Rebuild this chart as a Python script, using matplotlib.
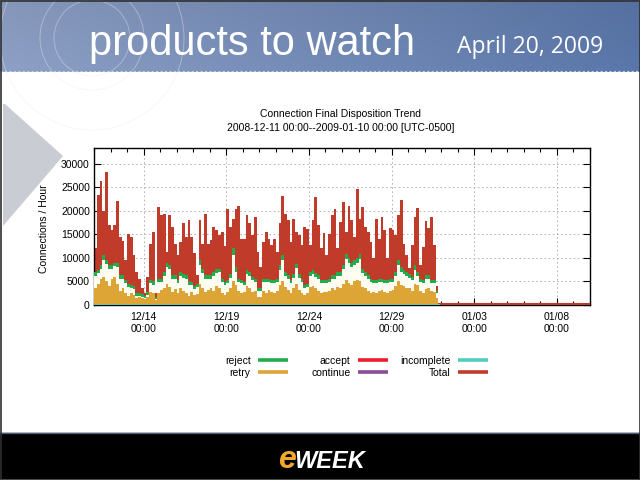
import numpy as np
import matplotlib
matplotlib.use('Agg')
import matplotlib.pyplot as plt
from matplotlib.patches import Polygon, Rectangle, Circle
from matplotlib.lines import Line2D

plt.rcParams['font.family'] = ['Liberation Sans', 'DejaVu Sans']

# ---------------- data (thousands of connections per 4-hour bin) ----------------
bin_hours = 4
total_k = [12.0, 23.3, 26.4, 20.0, 28.2, 17.0, 16.0, 17.0, 22.0, 14.5,
           13.5, 9.5, 15.0, 14.5, 10.5, 7.0, 5.5, 3.5, 2.5, 6.0,
           13.0, 15.5, 2.5, 20.8, 19.0, 19.4, 11.3, 19.0, 16.5, 13.0,
           10.5, 13.4, 17.3, 14.4, 18.0, 14.4, 11.0, 6.3, 18.0, 13.0,
           19.4, 13.0, 13.8, 16.5, 16.0, 14.8, 15.5, 12.6, 20.4, 16.6,
           18.3, 20.4, 21.1, 14.1, 14.1, 19.0, 17.3, 14.8, 18.7, 11.3,
           8.0, 13.4, 15.5, 14.0, 12.7, 14.1, 11.3, 17.3, 23.1, 19.4,
           18.0, 13.4, 18.3, 15.5, 14.8, 12.7, 16.6, 16.2, 12.7, 18.0,
           22.9, 16.9, 12.0, 15.2, 10.6, 15.0, 19.0, 20.4, 12.0, 17.6,
           21.8, 15.5, 21.1, 18.0, 14.5, 24.5, 18.3, 20.8, 16.6, 15.5,
           13.4, 9.9, 18.3, 14.1, 18.7, 16.0, 9.9, 16.4, 16.0, 14.8,
           19.0, 22.2, 13.0, 10.6, 7.8, 12.7, 18.7, 20.5, 8.5, 12.3,
           17.9, 16.4, 18.7, 12.7, 4.0, 0.4]
reject_k = [7.0, 7.5, 8.5, 10.5, 9.5, 8.5, 8.5, 9.0, 9.0, 6.3,
            6.3, 5.3, 4.5, 4.2, 4.0, 2.5, 2.5, 2.3, 2.0, 2.8,
            5.3, 5.0, 1.8, 5.6, 5.6, 7.0, 9.0, 8.5, 6.3, 6.3,
            5.3, 7.0, 6.5, 6.3, 5.0, 4.9, 4.0, 4.5, 9.5, 7.7,
            6.3, 6.3, 6.3, 7.0, 7.7, 7.7, 5.5, 4.9, 5.3, 6.5,
            12.0, 8.0, 5.6, 5.3, 4.9, 7.4, 7.0, 6.0, 5.6, 3.5,
            3.5, 5.6, 5.6, 5.6, 5.3, 5.3, 5.6, 8.5, 10.6, 7.0,
            6.3, 5.3, 6.5, 8.7, 6.5, 5.6, 4.2, 4.5, 7.0, 7.4,
            6.8, 6.3, 5.3, 5.3, 5.3, 5.5, 6.3, 6.3, 7.0, 7.0,
            8.5, 10.9, 10.0, 9.0, 9.5, 10.0, 10.9, 7.7, 7.0, 6.3,
            5.6, 5.3, 5.3, 5.6, 5.6, 5.3, 5.3, 5.6, 5.6, 7.0,
            9.5, 8.0, 7.4, 7.0, 6.5, 6.0, 8.5, 7.0, 5.6, 5.3,
            6.3, 6.3, 5.3, 5.3, 3.0, 0.3]
accept_k = [6.2, 6.7, 7.6, 9.6, 8.7, 7.7, 7.6, 8.2, 8.1, 5.5,
            5.5, 4.6, 3.8, 3.5, 3.3, 1.9, 1.9, 1.7, 1.5, 2.2,
            4.6, 4.3, 1.3, 4.8, 4.9, 6.2, 8.1, 7.6, 5.5, 5.6,
            4.6, 6.2, 5.7, 5.5, 4.3, 4.2, 3.3, 3.8, 8.5, 6.8,
            5.5, 5.5, 5.6, 6.2, 6.8, 6.9, 4.8, 4.2, 4.6, 5.7,
            10.6, 7.1, 4.9, 4.6, 4.2, 6.5, 6.2, 5.2, 4.8, 2.9,
            2.9, 4.9, 4.8, 4.9, 4.6, 4.6, 4.8, 7.5, 9.5, 6.2,
            5.5, 4.6, 5.7, 7.8, 5.7, 4.9, 3.5, 3.8, 6.2, 6.5,
            6.0, 5.5, 4.6, 4.6, 4.6, 4.8, 5.5, 5.5, 6.2, 6.2,
            7.6, 9.8, 9.0, 8.1, 8.5, 9.0, 9.8, 6.8, 6.2, 5.5,
            4.9, 4.6, 4.6, 4.9, 4.9, 4.6, 4.6, 4.9, 4.9, 6.2,
            8.5, 7.1, 6.5, 6.2, 5.7, 5.2, 7.5, 6.2, 4.9, 4.6,
            5.5, 5.5, 4.6, 4.6, 2.5, 0.2]
retry_k = [3.5, 4.5, 5.5, 6.0, 5.0, 4.0, 5.5, 6.0, 4.5, 3.0,
           3.5, 2.5, 2.0, 2.5, 2.2, 1.5, 1.8, 1.4, 1.2, 1.6,
           2.8, 2.5, 1.0, 2.5, 3.2, 3.5, 4.5, 3.8, 2.8, 3.4,
           2.5, 3.5, 3.0, 2.6, 2.0, 2.8, 2.2, 2.4, 4.5, 3.5,
           2.8, 3.2, 3.5, 3.0, 4.0, 3.6, 2.6, 2.2, 2.8, 3.5,
           5.0, 4.2, 3.0, 2.5, 2.8, 4.0, 3.6, 2.8, 3.0, 1.8,
           1.8, 3.0, 2.6, 3.2, 2.8, 2.5, 3.0, 4.2, 5.0, 3.8,
           3.2, 2.6, 3.5, 4.5, 3.2, 2.6, 2.2, 2.5, 3.8, 4.0,
           3.5, 3.0, 2.6, 2.8, 2.8, 3.0, 3.5, 3.2, 3.8, 3.5,
           4.5, 5.2, 4.6, 4.2, 5.0, 5.3, 5.0, 3.8, 3.5, 3.0,
           2.6, 2.8, 2.6, 3.0, 3.2, 2.8, 2.5, 3.0, 3.2, 4.0,
           5.0, 4.2, 4.0, 3.5, 3.5, 3.0, 4.5, 4.2, 3.0, 2.6,
           3.4, 3.6, 3.0, 2.8, 1.5, 0.1]
incomplete_k = [0.0] * len(total_k)
idle_total_k = [0.15] * 54          # near-zero activity after the outage
idle_accept_k = [0.0] * 54

tick_hours = [72, 192, 312, 432, 552, 672]
tick_labels = ['12/14\n00:00', '12/19\n00:00', '12/24\n00:00',
               '12/29\n00:00', '01/03\n00:00', '01/08\n00:00']
day_hours = list(range(0, 721, 24))
y_ticks = [0, 5000, 10000, 15000, 20000, 25000, 30000]

title_1 = 'Connection Final Disposition Trend'
title_2 = '2008-12-11 00:00--2009-01-10 00:00 [UTC-0500]'
y_label = 'Connections / Hour'

C_REJECT = '#20ad4e'
C_ACCEPT = '#ee1c2e'
C_INCOMP = '#4fcdbf'
C_RETRY = '#dca535'
C_CONT = '#8a4d96'
C_TOTAL = '#c13b2a'
C_WHITE = '#fffdf2'

# ---------------- figure ----------------
W, H = 640, 480
fig = plt.figure(figsize=(6.4, 4.8), dpi=100)
fig.patch.set_facecolor('white')

bg = fig.add_axes([0, 0, 1, 1], zorder=0)
bg.set_xlim(0, W); bg.set_ylim(H, 0); bg.axis('off')

# banner gradient
ny, nx = 72, 640
xs = np.linspace(0, 1, nx)[None, :, None]
ys = np.linspace(0, 1, ny)[:, None, None]
left = np.array([142, 160, 197]) / 255
right = np.array([90, 119, 170]) / 255
grad = left * (1 - xs) + right * xs
grad = grad * (1 - 0.06 * (1 - ys))
grad = np.clip(grad, 0, 1)
bg.imshow(grad, extent=[0, 640, 72, 0], aspect='auto', zorder=1, interpolation='bilinear')
bg.plot([0, 640], [70.5, 70.5], color='#c5cedf', lw=0.8, ls=(0, (2, 2)), zorder=2)

for r in (38, 52, 92):
    bg.add_patch(Circle((92, 38), r, fill=False, ec='#e9ebef', lw=0.7, alpha=0.4, zorder=2))

bg.text(89, 55, 'products to watch', color='white', fontsize=30,
        family=['Liberation Sans', 'DejaVu Sans'], ha='left', va='baseline', zorder=3)
bg.text(530, 53, 'April 20, 2009', color='white', fontsize=16.5,
        family=['Open Sans', 'DejaVu Sans'], ha='center', va='baseline', zorder=3)

# footer
bg.add_patch(Rectangle((0, 433), 640, 44.5, color='black', zorder=1))
bg.plot([0, 640], [433, 433], color='#4a5c7c', lw=1, zorder=2)
bg.text(296, 468, 'e', color='#f2a92a', fontsize=23, fontweight='bold', fontstyle='italic',
        family=['Liberation Sans', 'DejaVu Sans'], ha='right', va='baseline', zorder=3)
bg.text(294, 468, 'WEEK', color='white', fontsize=17, fontweight='bold', fontstyle='italic',
        family=['Liberation Sans', 'DejaVu Sans'], ha='left', va='baseline', zorder=3)
bg.add_patch(Rectangle((0.5, 0.5), 639, 479, fill=False, ec='#303030', lw=1.2, zorder=4))

# chart titles and y label
bg.text(341, 114, title_1, fontsize=7.5, ha='center', va='center', zorder=3)
bg.text(341, 128, title_2, fontsize=7.5, ha='center', va='center', zorder=3)
bg.text(44, 229, y_label, fontsize=7.5, rotation=90, ha='center', va='center', zorder=3)

# ---------------- chart axes ----------------
x0, x1, y0, y1 = 94, 590, 148, 305
ax = fig.add_axes([x0 / W, 1 - y1 / H, (x1 - x0) / W, (y1 - y0) / H], zorder=2)
ax.set_facecolor('white')

n = len(total_k)
edges = np.arange(n + 1) * bin_hours
def stepv(v):
    v = np.asarray(v, dtype=float) * 1000
    return np.r_[v, v[-1]]

ax.fill_between(edges, stepv(total_k), step='post', color=C_TOTAL, lw=0, zorder=2)
ax.fill_between(edges, stepv(reject_k), step='post', color=C_REJECT, lw=0, zorder=3)
ax.fill_between(edges, stepv(accept_k), step='post', color=C_WHITE, lw=0, zorder=4)
ax.fill_between(edges, stepv(retry_k), step='post', color=C_RETRY, lw=0, zorder=5)
ax.step(edges, stepv(incomplete_k), where='post', color=C_INCOMP, lw=2, zorder=6)

tail_edges = edges[-1] + np.arange(len(idle_total_k) + 1) * bin_hours
ax.step(tail_edges, stepv(idle_accept_k), where='post', color=C_ACCEPT, lw=2, zorder=6)
ax.step(tail_edges, stepv(idle_total_k), where='post', color=C_TOTAL, lw=1.5, zorder=7)

ax.set_xlim(0, 720)
ax.set_ylim(0, 33300)
ax.set_xticks(tick_hours)
ax.set_xticklabels(tick_labels, fontsize=7.5, linespacing=1.3)
ax.set_xticks(day_hours, minor=True)
ax.set_yticks(y_ticks)
ax.set_yticklabels([str(v) for v in y_ticks], fontsize=7.5)
ax.tick_params(which='major', direction='in', top=True, right=True, length=5, width=0.8)
ax.tick_params(which='minor', direction='in', top=True, bottom=True, length=3, width=0.8)
ax.tick_params(axis='x', pad=5)
ax.tick_params(axis='y', pad=3)
ax.grid(True, which='major', color='#a8a8a8', ls=(0, (2, 3)), lw=0.6)
ax.set_axisbelow(True)
for s in ax.spines.values():
    s.set_linewidth(1.0)
    s.set_color('black')

# legends (three columns, text right-aligned before the key)
def leg(handles, labels, right_px):
    lg = fig.legend(handles, labels, loc='upper right', bbox_to_anchor=(right_px / W, 1 - 355.5 / H),
                    frameon=False, markerfirst=False, fontsize=7.5, handlelength=2.9,
                    handletextpad=0.7, labelspacing=0.22, borderpad=0, borderaxespad=0)
    return lg

def h(c):
    return Line2D([], [], color=c, lw=2.6, solid_capstyle='butt')

leg([h(C_REJECT), h(C_RETRY)], ['reject', 'retry'], 288)
leg([h(C_ACCEPT), h(C_CONT)], ['accept', 'continue'], 388)
leg([h(C_INCOMP), h(C_TOTAL)], ['incomplete', 'Total'], 488)

# overlay: grey triangle (drawn above the chart labels)
ov = fig.add_axes([0, 0, 1, 1], zorder=5)
ov.set_xlim(0, W); ov.set_ylim(H, 0); ov.axis('off')
ov.patch.set_alpha(0)
ov.add_patch(Polygon([[5, 104], [63, 156], [3, 226], [3, 104]], closed=True, color='#c9ccd2', lw=0))

fig.savefig('out.png', dpi=100)
